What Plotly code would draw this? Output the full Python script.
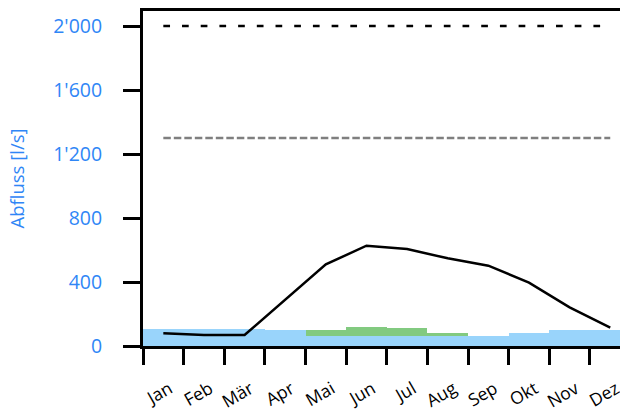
import plotly.graph_objects as go

months = ["Jan", "Feb", "Mär", "Apr", "Mai", "Jun", "Jul", "Aug", "Sep", "Okt", "Nov", "Dez"]
base_flow = [106, 106, 106, 100, 64, 64, 64, 64, 64, 83, 102, 102]
extra_flow = [0, 0, 0, 0, 36, 55, 48, 17, 0, 0, 0, 0]
mean_flow = [79, 69, 69, 290, 510, 627, 606, 548, 502, 396, 242, 115]
level_high = [2000] * 12
level_mid = [1300] * 12
y_tickvals = [0, 400, 800, 1200, 1600, 2000]
y_ticktext = ["0", "400", "800", "1'200", "1'600", "2'000"]

BLUE_TXT = "#2f86f6"
FONT = "Open Sans"

fig = go.Figure()
fig.add_trace(go.Bar(x=months, y=base_flow, marker=dict(color="#99d4fb", line=dict(width=0)),
                     width=1, showlegend=False))
fig.add_trace(go.Bar(x=months, y=extra_flow, marker=dict(color="#82ca80", line=dict(width=0)),
                     width=1, showlegend=False))
fig.add_trace(go.Scatter(x=months, y=mean_flow, mode="lines",
                         line=dict(color="black", width=2.5), showlegend=False))
fig.add_trace(go.Scatter(x=months, y=level_high, mode="lines",
                         line=dict(color="black", width=2.5, dash="6.7px,12px"), showlegend=False))
fig.add_trace(go.Scatter(x=months, y=level_mid, mode="lines",
                         line=dict(color="#7f7f7f", width=2.5, dash="7.5px,3px"), showlegend=False))

fig.update_layout(
    width=620, height=412,
    margin=dict(l=143, r=0, t=11, b=66),
    barmode="stack", bargap=0,
    plot_bgcolor="white", paper_bgcolor="white",
    font=dict(family=FONT, color="black"),
    xaxis=dict(
        type="category", range=[-0.5, 11.24], tickson="boundaries",
        showline=True, linecolor="black", linewidth=3, mirror=True,
        ticks="outside", ticklen=16, tickwidth=3, tickcolor="black",
        tickangle=-30, tickfont=dict(size=17.5, color="black", family=FONT),
        ticklabelstandoff=23, ticklabelshift=6,
        showgrid=False, zeroline=False, automargin=False,
    ),
    yaxis=dict(
        range=[0, 2094], tickvals=y_tickvals, ticktext=y_ticktext,
        showline=True, linecolor="black", linewidth=3, mirror=False,
        ticks="outside", ticklen=17, tickwidth=3, tickcolor="black",
        tickfont=dict(size=19.5, color=BLUE_TXT, family=FONT),
        ticklabelstandoff=17,
        showgrid=False, zeroline=False, automargin=False,
        title=dict(text="Abfluss [l/s]", font=dict(size=18.5, color=BLUE_TXT, family=FONT), standoff=24),
    ),
)

fig.write_html(
    "out.html",
    config={"displayModeBar": False},
    post_script="document.body.style.margin='0';document.body.style.overflow='hidden';",
)
